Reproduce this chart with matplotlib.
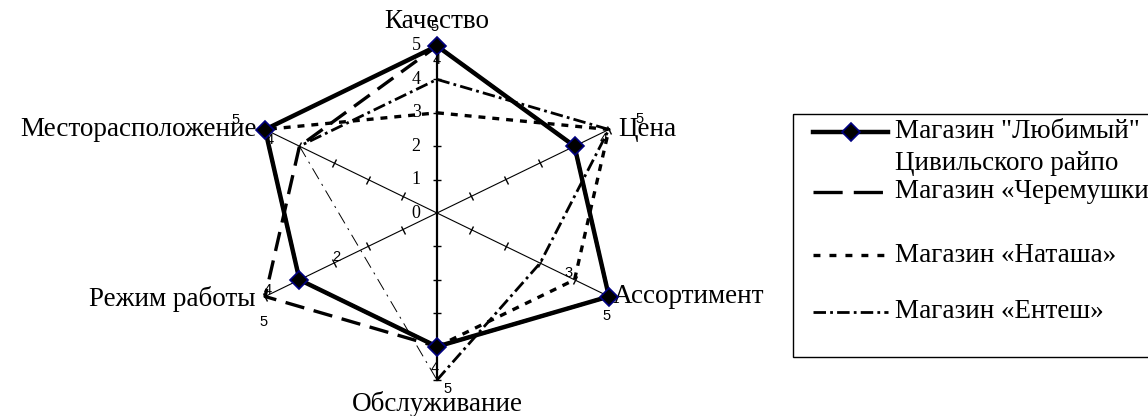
import numpy as np
import matplotlib
matplotlib.use("Agg")
import matplotlib.pyplot as plt
from matplotlib.markers import MarkerStyle
from matplotlib.transforms import Affine2D
from matplotlib.patches import Rectangle

plt.rcParams['lines.scale_dashes'] = False

# categories clockwise from the top
categories = ["Качество", "Цена", "Ассортимент", "Обслуживание",
              "Режим работы", "Месторасположение"]
angles_deg = [90, 30, -30, -90, -150, 150]

lyubimy = [5, 4, 5, 4, 4, 5]
cheremushki = [5, 4, 5, 4, 5, 4]
natasha = [3, 5, 4, 4, 4, 5]
entesh = [4, 5, 3, 5, np.nan, 4]

legend_labels = ['Магазин "Любимый"\nЦивильского райпо', 'Магазин «Черемушки»',
                 'Магазин «Наташа»', 'Магазин «Ентеш»']
scale_ticks = [0, 1, 2, 3, 4, 5]

# pixel geometry of the (horizontally stretched) original
W, H = 1148, 416
cx, cy = 437, 213
ux, uy = 39.7, 33.4   # pixels per unit

serif = ['Liberation Serif', 'DejaVu Serif']
sans = ['Liberation Sans', 'DejaVu Sans']
FS = 19.5

fig = plt.figure(figsize=(W / 100, H / 100), dpi=100)
ax = fig.add_axes([0, 0, 1, 1])
ax.set_xlim(-cx / ux, (W - cx) / ux)
ax.set_ylim(-(H - cy) / uy, cy / uy)
ax.axis('off')

th = np.radians(angles_deg)


def xy(vals):
    v = np.asarray(vals, dtype=float)
    return v * np.cos(th), v * np.sin(th)


# spokes with ticks
for i, t in enumerate(th):
    lw = 1.6 if angles_deg[i] in (90, -90) else 0.8
    ax.plot([0, 5 * np.cos(t)], [0, 5 * np.sin(t)], color='black', lw=lw, zorder=1)
    phi = np.degrees(np.arctan2(np.sin(t) * uy, np.cos(t) * ux))
    m = MarkerStyle('_', transform=Affine2D().rotate_deg(phi + 90))
    r = np.arange(1, 6)
    ax.plot(r * np.cos(t), r * np.sin(t), ls='none', marker=m, ms=6,
            mec='black', mew=1.0, zorder=1)

# scale labels on the vertical axis
for v in scale_ticks:
    ax.annotate(str(v), (0, v), xytext=(-15, 0), textcoords='offset points',
                ha='center', va='center', fontsize=13, family=serif)

# series
x, y = xy(natasha)
ax.plot(np.r_[x, x[0]], np.r_[y, y[0]], color='black', lw=2.4,
        dashes=(5, 5), zorder=2)

x, y = xy(entesh)
# Обслуживание -> Месторасположение bridges the empty value, drawn thin
main = [3, 2, 1, 0, 5]
ax.plot(x[main], y[main], color='black', lw=2.0, dashes=(9, 3, 2, 3), zorder=3)
ax.plot([x[5], x[3]], [y[5], y[3]], color='black', lw=0.7,
        dashes=(9, 4, 1.5, 4), zorder=3)

x, y = xy(cheremushki)
ax.plot(np.r_[x, x[0]], np.r_[y, y[0]], color='black', lw=2.4,
        dashes=(14, 7), zorder=4)

x, y = xy(lyubimy)
ax.plot(np.r_[x, x[0]], np.r_[y, y[0]], color='black', lw=3.2, zorder=5)
ax.plot(x, y, ls='none', marker='D', ms=9, mfc='black', mec='#000080',
        mew=1.2, zorder=6)

# category names
cat_pos = [((0, 5), (0, 18), 'center'),
           ((np.cos(th[1]) * 5, np.sin(th[1]) * 5), (7, 0), 'left'),
           ((np.cos(th[2]) * 5, np.sin(th[2]) * 5), (3, 0), 'left'),
           ((0, -5), (0, -17), 'center'),
           ((np.cos(th[4]) * 5, np.sin(th[4]) * 5), (-7, -2), 'right'),
           ((np.cos(th[5]) * 5, np.sin(th[5]) * 5), (-6, 0), 'right')]
for name, (p, off, ha) in zip(categories, cat_pos):
    ax.annotate(name, p, xytext=off, textcoords='offset points', ha=ha,
                va='center', fontsize=FS, family=serif)

# stray data labels: (text, category, value, offset in px)
data_labels = [("5", 0, 5, (-2, -19)), ("4", 0, 5, (0, 14)),
               ("5", 1, 5, (31, -11)), ("4", 1, 5, (-5, 9)),
               ("3", 2, 4, (-6, -7)), ("5", 2, 5, (-2, 20)),
               ("4", 3, 5, (-2, -12)), ("5", 3, 5, (11, 9)),
               ("4", 4, 5, (3, -7)), ("5", 4, 5, (-2, 26)),
               ("2", 4, 3, (2, -6)),
               ("5", 5, 5, (-30, -10)), ("4", 5, 5, (5, 10))]
for txt, c, v, (dx, dy) in data_labels:
    ax.annotate(txt, (v * np.cos(th[c]), v * np.sin(th[c])),
                xytext=(dx * 0.72, -dy * 0.72), textcoords='offset points',
                ha='center', va='center', fontsize=10.5, family=sans, zorder=7)

# legend drawn in pixel space
lax = fig.add_axes([0, 0, 1, 1])
lax.set_xlim(0, W)
lax.set_ylim(H, 0)
lax.axis('off')
lax.add_patch(Rectangle((793, 114), 400, 243, fill=False, ec='black', lw=1.0,
                        clip_on=False))
sx0, sx1, tx = 813, 888, 895
lax.plot([sx0, sx1], [132, 132], color='black', lw=3.2)
lax.plot([(sx0 + sx1) / 2], [132], marker='D', ms=9, mfc='black', mec='#000080',
         mew=1.2)
lax.plot([sx0, sx1], [192, 192], color='black', lw=2.4, dashes=(21, 8))
lax.plot([sx0, sx1], [255, 255], color='black', lw=2.4, dashes=(5, 6.5))
lax.plot([sx0, sx1], [312, 312], color='black', lw=2.0, dashes=(9, 3, 2, 3))
lax.text(tx, 132, 'Магазин "Любимый"', va='center', fontsize=FS, family=serif)
lax.text(tx, 163, 'Цивильского райпо', va='center', fontsize=FS, family=serif)
lax.text(tx, 192, legend_labels[1], va='center', fontsize=FS, family=serif)
lax.text(tx, 255, legend_labels[2], va='center', fontsize=FS, family=serif)
lax.text(tx, 312, legend_labels[3], va='center', fontsize=FS, family=serif)

fig.savefig("out.png", dpi=100)
